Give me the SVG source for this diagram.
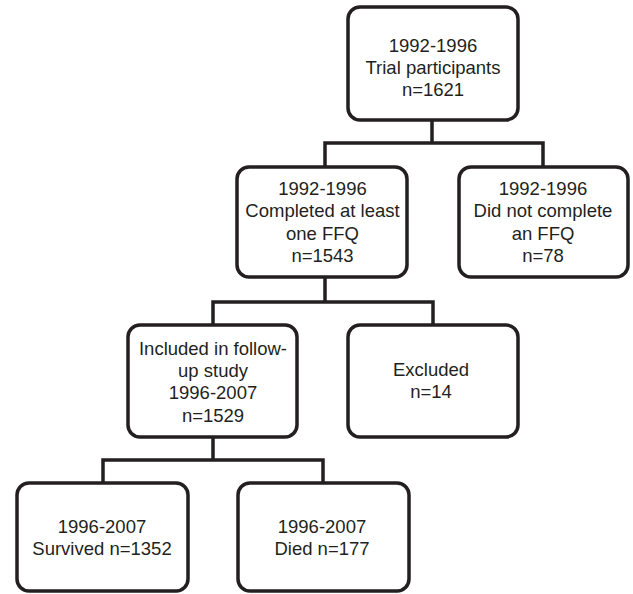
<svg xmlns="http://www.w3.org/2000/svg" width="633" height="594" viewBox="0 0 633 594">
<style>
.box{fill:#ffffff;stroke:#231f20;stroke-width:3.5}
.conn{fill:none;stroke:#231f20;stroke-width:3.5;stroke-linejoin:miter}
text{font-family:"Liberation Sans",Arial,Helvetica,sans-serif;font-size:18.5px;fill:#231f20;text-anchor:middle}
</style>
<rect x="0" y="0" width="633" height="594" fill="#ffffff"/>
<g id="connectors">
<path class="conn" d="M432,120 V143 M325,167 V143 H543 V167"/>
<path class="conn" d="M325,277 V302 M213,325 V302 H433 V325"/>
<path class="conn" d="M213,437 V460 M103,483 V460 H323 V483"/>
</g>
<g id="n1"><rect class="box" x="348" y="7" width="170" height="113" rx="12"/>
<text x="433" y="51.5">1992-1996</text><text x="433" y="73.5">Trial participants</text><text x="433" y="96">n=1621</text></g>
<g id="n2"><rect class="box" x="237" y="167" width="170" height="110" rx="12"/>
<text x="322.5" y="194.5">1992-1996</text><text x="322.5" y="217">Completed at least</text><text x="322.5" y="239.5">one FFQ</text><text x="322.5" y="262">n=1543</text></g>
<g id="n3"><rect class="box" x="459" y="167" width="169" height="110" rx="12"/>
<text x="543" y="194.5">1992-1996</text><text x="543" y="217">Did not complete</text><text x="543" y="239.5">an FFQ</text><text x="543" y="262">n=78</text></g>
<g id="n4"><rect class="box" x="128" y="325" width="169" height="112" rx="12"/>
<text x="213" y="354.5">Included in follow-</text><text x="213" y="376.5">up study</text><text x="213" y="398.5">1996-2007</text><text x="213" y="421.5">n=1529</text></g>
<g id="n5"><rect class="box" x="348" y="325" width="170" height="112" rx="12"/>
<text x="431" y="375.5">Excluded</text><text x="431" y="397.5">n=14</text></g>
<g id="n6"><rect class="box" x="17" y="483" width="171" height="108" rx="12"/>
<text x="102" y="532.5">1996-2007</text><text x="102" y="554.5">Survived n=1352</text></g>
<g id="n7"><rect class="box" x="238" y="483" width="171" height="108" rx="12"/>
<text x="322" y="532.5">1996-2007</text><text x="322" y="554.5">Died n=177</text></g>
</svg>
